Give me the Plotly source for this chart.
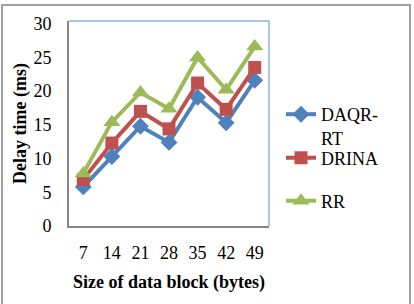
import plotly.graph_objects as go

categories = ["7", "14", "21", "28", "35", "42", "49"]
daqr_rt = [5.8, 10.3, 14.8, 12.4, 19.1, 15.3, 21.6]
drina = [6.9, 12.3, 17.0, 14.4, 21.2, 17.3, 23.5]
rr = [7.8, 15.4, 19.8, 17.4, 25.0, 20.2, 26.6]
y_ticks = [0, 5, 10, 15, 20, 25, 30]

FONT = "Liberation Serif"
FS = 18
W, H = 414, 304
L, R, T, B = 69, 145, 21, 78
pw, ph = W - L - R, H - T - B


def px_x(p):
    return (p - L) / pw


def px_y(p):
    return (H - B - p) / ph


fig = go.Figure()
series = [
    ("DAQR-<br>RT", daqr_rt, "#4F81BD", "diamond", 13, "legend"),
    ("DRINA", drina, "#C0504D", "square", 13, "legend2"),
    ("RR", rr, "#9BBB59", "triangle-up", 15, "legend3"),
]
for name, vals, col, sym, sz, lg in series:
    fig.add_trace(go.Scatter(
        x=categories, y=vals, name=name, mode="lines+markers",
        line=dict(color=col, width=4),
        marker=dict(symbol=sym, size=sz, color=col),
        legend=lg,
    ))

leg_common = dict(font=dict(family=FONT, size=FS, color="black"),
                  bgcolor="rgba(0,0,0,0)", xanchor="left", yanchor="middle",
                  valign="top", itemwidth=30, tracegroupgap=0)
fig.update_layout(
    width=W, height=H,
    margin=dict(l=L, r=R, t=T, b=B),
    paper_bgcolor="white", plot_bgcolor="white",
    font=dict(family=FONT, size=FS, color="black"),
    legend=dict(x=px_x(281), y=px_y(126), **leg_common),
    legend2=dict(x=px_x(281), y=px_y(158), **leg_common),
    legend3=dict(x=px_x(281), y=px_y(201), **leg_common),
    xaxis=dict(
        type="category", range=[-0.5, 6.5],
        showline=True, linecolor="#868686", linewidth=2,
        showgrid=False, zeroline=False,
        ticks="outside", ticklen=9, tickcolor="rgba(0,0,0,0)",
        tickfont=dict(family=FONT, size=FS),
        title=dict(text="<b>Size of data block (bytes)</b>",
                   font=dict(family=FONT, size=FS), standoff=14),
    ),
    yaxis=dict(
        range=[0, 30.4], tickvals=y_ticks,
        showline=True, linecolor="#868686", linewidth=2,
        showgrid=False, zeroline=False,
        ticks="outside", ticklen=12, tickcolor="rgba(0,0,0,0)",
        tickfont=dict(family=FONT, size=FS),
        title=dict(text="<b>Delay time (ms)</b>",
                   font=dict(family=FONT, size=FS), standoff=2),
    ),
    showlegend=True,
)

# plot-area top and right borders (light blue)
fig.add_shape(type="line", xref="paper", yref="paper", x0=0, x1=1, y0=1, y1=1,
              line=dict(color="#8EB4E3", width=1.5))
fig.add_shape(type="line", xref="paper", yref="paper", x0=1, x1=1, y0=0, y1=1,
              line=dict(color="#8EB4E3", width=1.5))
# outer chart frame
fig.add_shape(type="rect", xref="paper", yref="paper",
              x0=px_x(2), x1=px_x(410), y0=px_y(310), y1=px_y(5),
              line=dict(color="#A0A0A0", width=2), layer="below")

fig.write_html("out.html")
